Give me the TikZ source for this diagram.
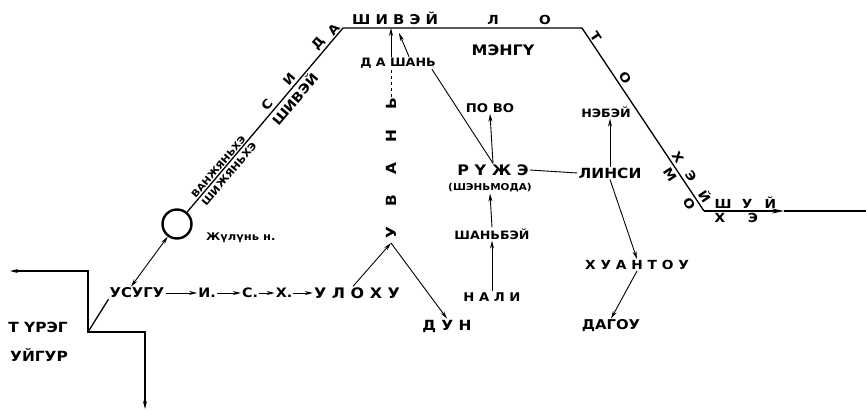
\documentclass[tikz,border=0pt]{standalone}
\usepackage{fontspec}
\setmainfont{DejaVu Sans}[FakeStretch=1.1]
\usetikzlibrary{arrows.meta}

\begin{document}
\begin{tikzpicture}[x=1pt, y=-1pt,
    >={Stealth[length=8pt,width=4pt]},
    lbl/.style={font=\bfseries\fontsize{#1}{#1}\selectfont, inner sep=1pt},
    lbl/.default=12.5,
    border/.style={line width=1.3pt},
    link/.style={line width=0.9pt}]
    \path[fill=white, use as bounding box] (0,0) rectangle (866,411);

    % corners of the border line
    \coordinate (wEnd) at (10,271);
    \coordinate (wTop) at (88,271);
    \coordinate (tCorner) at (88,332);
    \coordinate (sTop) at (145,332);
    \coordinate (sEnd) at (145,409);
    \coordinate (c1) at (343,28);
    \coordinate (c2) at (582,28);
    \coordinate (c3) at (704,211);
    \coordinate (arrowE) at (784,211);
    \coordinate (eEnd) at (866,211);
    \coordinate (peak) at (391,243);
    \coordinate (dsHook) at (399,33);

    % Zhulun lake
    \node[draw, circle, line width=2.4pt, minimum size=29pt, inner sep=0pt] (circ) at (177,224) {};
    \node[lbl=10.5, anchor=west] (zhulun) at (205,238) {Жүлүнь н.};

    % south-west
    \node[lbl=14] (turag) at (38,327) {Т ҮРЭГ};
    \node[lbl=14] (uigur) at (39,355) {УЙГУР};

    % Usugu row
    \node[lbl=13.5] (usugu) at (137,293) {УСУГУ};
    \node[lbl=13] (ii) at (207,293) {И.};
    \node[lbl=13] (ss) at (250,293) {С.};
    \node[lbl=13] (hh) at (284,293) {Х.};
    \node[lbl=14.5] (uloxu) at (357,293) {У Л О Х У};
    \node[lbl=14] (dun) at (447,326) {Д У Н};

    % middle
    \node[lbl=14, rotate=90] (uvan) at (391,168) {У\hspace{20pt}В\hspace{20pt}А\hspace{20pt}Н\hspace{20pt}Ь};
    \node[lbl=11.5] (dashan) at (398,63) {Д А ШАНЬ};
    \node[lbl=14.5] (mengu) at (503,50) {МЭНГҮ};
    \node[lbl=12] (povo) at (490,108) {ПО ВО};
    \node[lbl=14.5] (ruzhe) at (493,170) {Р Ү Ж Э};
    \node[lbl=9.5] (shenmoda) at (490,188) {(ШЭНЬМОДА)};
    \node[lbl=11.5] (shanbei) at (492,234) {ШАНЬБЭЙ};
    \node[lbl=12] (nali) at (492,297) {Н А Л И};

    % east
    \node[lbl=14] (linsi) at (610,173) {ЛИНСИ};
    \node[lbl=11.5] (nebei) at (606,112) {НЭБЭЙ};
    \node[lbl=12.5] (huantou) at (637,265) {Х У А Н Т О У};
    \node[lbl=13.5] (dagou) at (611,326) {ДАГОУ};

    % border line
    \draw[border, <->] (wEnd) -- (wTop) -- (tCorner) -- (sTop) -- (sEnd);
    \draw[border] (tCorner) -- (usugu.south west);
    \draw[link, <->] ([xshift=-6pt]usugu.north) -- (circ);
    \draw[border] (circ)
        -- node[lbl=9.5, pos=0.227, sloped, above] {ВАНЖЯНЬХЭ}
           node[lbl=10, pos=0.233, sloped, below=2pt] {ШИЖЯНЬХЭ}
           node[lbl=13, pos=0.645, sloped, below=1pt] {ШИВЭЙ}
           node[lbl, pos=0.553, sloped, above=2pt] {С}
           node[lbl, pos=0.694, sloped, above=2pt] {И}
           node[lbl, pos=0.886, sloped, above=2pt] {Д}
           node[lbl, pos=0.97, sloped, above] {А} (c1)
        -- node[lbl=13.5, pos=0.218, above=2pt] {Ш И В Э Й}
           node[lbl, pos=0.628, above=2pt] {Л}
           node[lbl, pos=0.845, above=2pt] {О} (c2)
        -- node[lbl, pos=0.07, sloped, above] {Т}
           node[lbl, pos=0.297, sloped, above=2pt] {О}
           node[lbl, pos=0.73, sloped, above=2pt] {Х}
           node[lbl, pos=0.835, sloped, above=2pt] {Э}
           node[lbl, pos=0.946, sloped, above=2pt] {Й}
           node[lbl, pos=0.777, sloped, below=2pt] {М}
           node[lbl, pos=0.936, sloped, below=2pt] {О} (c3);
    \draw[border, -{Stealth[length=12pt,width=5pt]}] (c3)
        -- node[lbl, pos=0.24, above=1pt] {Ш}
           node[lbl, pos=0.54, above=1pt] {У}
           node[lbl, pos=0.83, above=1pt] {Й}
           node[lbl, pos=0.2, below=1pt] {Х}
           node[lbl, pos=0.61, below=1pt] {Э} (arrowE);
    \draw[border] (arrowE) -- (eEnd);

    % connections
    \draw[link, ->] (usugu) -- (ii);
    \draw[link, ->] (ii) -- (ss);
    \draw[link, ->] (ss) -- (hh);
    \draw[link, ->] (hh) -- (uloxu);
    \draw[link, ->] ([xshift=-4pt]uloxu.north) -- (peak);
    \draw[link, ->] (peak) -- (dun.north);
    \draw[link, dashed] (uvan.east) -- (uvan.east |- dashan.south);
    \draw[link, ->] (uvan.east |- dashan.north) -- (uvan.east |- c1);
    \draw[link, ->] ([xshift=11pt]dashan.north) -- (dsHook);
    \draw[link] ([xshift=-5pt]dashan.south east) -- (ruzhe.north);
    \draw[link, ->] (ruzhe.north) -- (povo.south);
    \draw[link, ->] (shanbei.north) -- (shenmoda.south);
    \draw[link, ->] (nali.north) -- (shanbei.south);
    \draw[link] (ruzhe.east) -- (linsi.west);
    \draw[link, ->] (linsi.north) -- (linsi.north |- nebei.south);
    \draw[link, ->] (linsi.south) -- (huantou.north);
    \draw[link, ->] (huantou.south) -- (dagou.north);
\end{tikzpicture}
\end{document}
